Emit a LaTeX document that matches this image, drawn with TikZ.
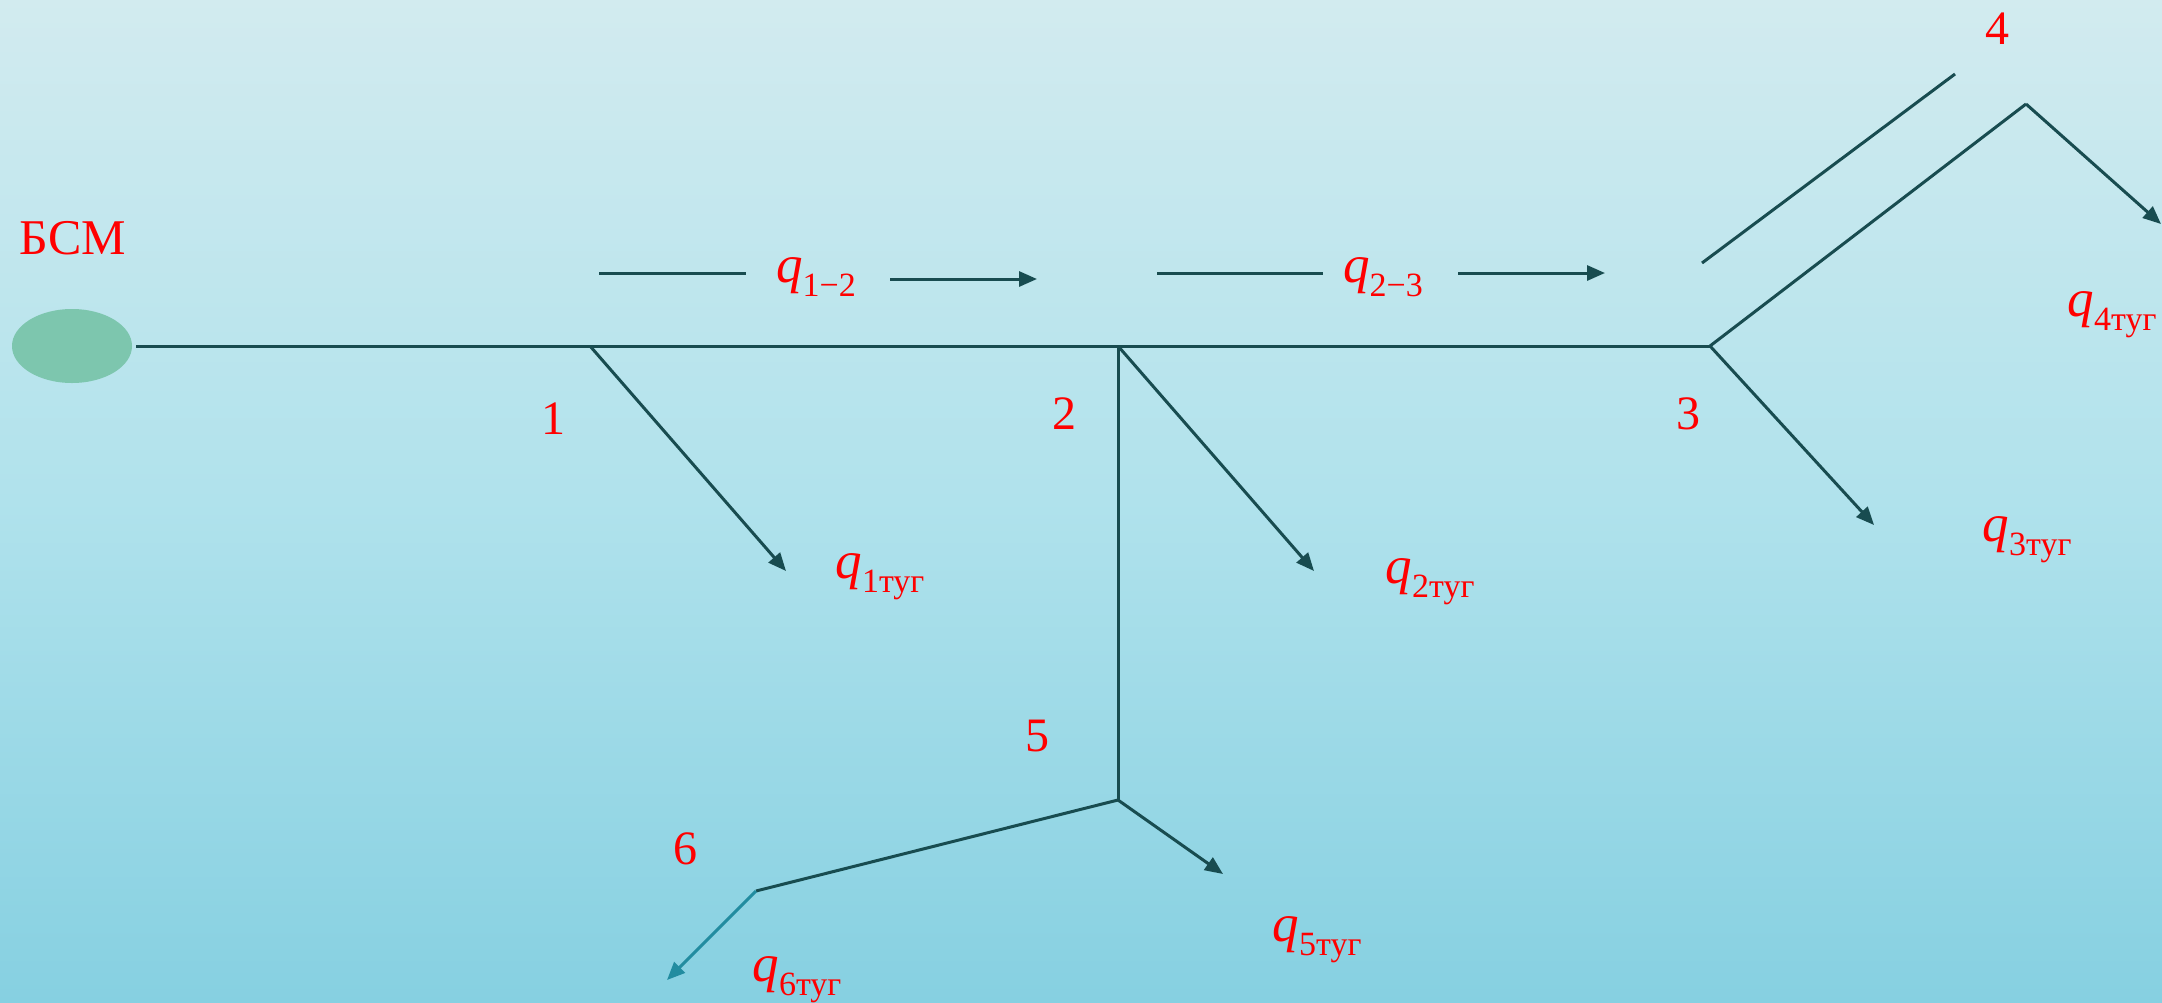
\documentclass[tikz,border=0pt]{standalone}
\usepackage{fontspec}
\setmainfont{Liberation Serif}
\usetikzlibrary{arrows.meta,shapes.geometric}
\definecolor{pipe}{RGB}{24,76,80}
\definecolor{pipeB}{RGB}{34,140,160}
\definecolor{bsmfill}{RGB}{125,198,174}
\definecolor{bgtop}{RGB}{210,235,239}
\definecolor{bgmid}{RGB}{176,226,236}
\definecolor{bgbot}{RGB}{134,208,225}
\newcommand\qsub[1]{\textit{q}\raisebox{-0.26em}{\fontsize{34}{36}\selectfont #1}}
\begin{document}
\begin{tikzpicture}[x=1pt,y=-1pt,
  pipeline/.style={draw=pipe, line width=3pt},
  flow/.style={pipeline, -{Triangle[length=18pt,width=15pt]}},
  flowB/.style={draw=pipeB, line width=3pt, -{Triangle[length=18pt,width=15pt]}},
  numlbl/.style={text=red, font=\fontsize{48}{52}\selectfont, inner sep=0pt},
  qlbl/.style={text=red, font=\fontsize{53}{56}\selectfont, inner sep=0pt},
  station/.style={ellipse, fill=bsmfill, draw=none, minimum width=120pt, minimum height=74pt, inner sep=0pt}]
\shade[top color=bgtop, bottom color=bgmid] (0,0) rectangle (2162,501);
\shade[top color=bgmid, bottom color=bgbot] (0,501) rectangle (2162,1002);
\useasboundingbox (0,0) rectangle (2162,1002);
% station
\node[station] (bsm) at (72,346) {};
\node[numlbl, font=\fontsize{50}{54}\selectfont] (bsmlbl) at (73,238) {БСМ};
% junctions
\coordinate (n1) at (590,346);
\coordinate (n2) at (1118,346);
\coordinate (n3) at (1710,346);
\coordinate (n4) at (2026,104);
\coordinate (n5) at (1118,800);
\coordinate (n6) at (756,891);
% arrow ends
\coordinate (e1) at (786,571);
\coordinate (e2) at (1314,571);
\coordinate (e3) at (1874,525);
\coordinate (e4) at (2161,224);
\coordinate (e5) at (1223,874);
\coordinate (e6) at (667,980);
% pipes
\draw[pipeline] ([xshift=4pt]bsm.east) -- (n3);
\draw[pipeline] (n3) -- (n4);
\draw[flow] (n4) -- (e4);
\draw[flow] (n1) -- (e1);
\draw[flow] (n2) -- (e2);
\draw[flow] (n3) -- (e3);
\draw[pipeline] (n2) -- (n5);
\draw[flow] (n5) -- (e5);
\draw[pipeline] (n5) -- (n6);
\draw[flowB] (n6) -- (e6);
% parallel line near 3-4
\coordinate (p1) at (1702,263);
\coordinate (p2) at (1955,74);
\draw[pipeline] (p1) -- (p2);
% flow direction arrows
\coordinate (f1a) at (599,273);
\coordinate (f1b) at (746,273);
\coordinate (f1c) at (890,279);
\coordinate (f1d) at (1037,279);
\coordinate (f2a) at (1157,273);
\coordinate (f2b) at (1323,273);
\coordinate (f2c) at (1458,273);
\coordinate (f2d) at (1605,273);
\draw[pipeline] (f1a) -- (f1b);
\draw[flow] (f1c) -- (f1d);
\draw[pipeline] (f2a) -- (f2b);
\draw[flow] (f2c) -- (f2d);
\node[qlbl] (q12) at (816,277) {\qsub{1−2}};
\node[qlbl] (q23) at (1383,277) {\qsub{2−3}};
% node numbers
\node[numlbl] (l1) at (553,419) {1};
\node[numlbl] (l2) at (1064,414) {2};
\node[numlbl] (l3) at (1688,414) {3};
\node[numlbl] (l4) at (1997,29) {4};
\node[numlbl] (l5) at (1037,736) {5};
\node[numlbl] (l6) at (685,849) {6};
% consumption labels
\node[qlbl] (q1) at (880,577) {\qsub{1туг}};
\node[qlbl] (q2) at (1430,582) {\qsub{2туг}};
\node[qlbl] (q3) at (2027,540) {\qsub{3туг}};
\node[qlbl] (q4) at (2112,315) {\qsub{4туг}};
\node[qlbl] (q5) at (1317,940) {\qsub{5туг}};
\node[qlbl] (q6) at (797,980) {\qsub{6туг}};
\end{tikzpicture}
\end{document}
